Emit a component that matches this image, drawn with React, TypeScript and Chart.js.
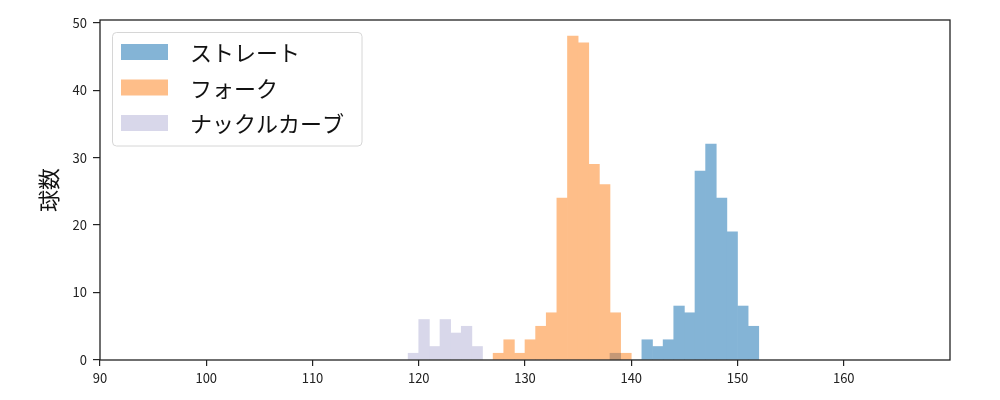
import React, { useEffect, useRef } from "react";
import { Chart, registerables } from "chart.js";

Chart.register(...registerables);

// Histogram bins (left edge, width 1) and counts per pitch type
const seriesNames = ["ストレート", "フォーク", "ナックルカーブ"];
const straightBins = [138, 139, 140, 141, 142, 143, 144, 145, 146, 147, 148, 149, 150, 151];
const straightCounts = [1, 0, 0, 3, 2, 3, 8, 7, 28, 32, 24, 19, 8, 5];
const forkBins = [127, 128, 129, 130, 131, 132, 133, 134, 135, 136, 137, 138, 139];
const forkCounts = [1, 3, 1, 3, 5, 7, 24, 48, 47, 29, 26, 7, 1];
const knuckleBins = [119, 120, 121, 122, 123, 124, 125];
const knuckleCounts = [1, 6, 2, 6, 4, 5, 2];
const xTicks = [90, 100, 110, 120, 130, 140, 150, 160];
const yTicks = [0, 10, 20, 30, 40, 50];
const yLabel = "球数";

const colors = ["rgb(132,180,214)", "rgb(254,190,137)", "rgb(216,215,234)"];
const overlapColor = "rgb(197,152,118)";
const FONT = '"Noto Sans CJK JP", "Noto Sans", sans-serif';

const toPoints = (bins: number[], counts: number[]) =>
  bins.map((b, i) => ({ x: b + 0.5, y: counts[i] }));

// straight bars that sit under a fork bar get the blended tint
const straightColors = straightBins.map((b) =>
  forkBins.includes(b) ? overlapColor : colors[0]
);

const overlayPlugin = {
  id: "overlay",
  afterDraw(chart: any) {
    const { ctx, chartArea } = chart;
    const { left, right, top, bottom } = chartArea;
    ctx.save();
    ctx.strokeStyle = "#222";
    ctx.lineWidth = 1.3;
    ctx.strokeRect(left, top, right - left, bottom - top);
    ctx.fillStyle = "#111";
    ctx.font = `22px ${FONT}`;
    ctx.textAlign = "center";
    ctx.textBaseline = "middle";
    ctx.translate(49, (top + bottom) / 2);
    ctx.rotate(-Math.PI / 2);
    ctx.fillText(yLabel, 0, 0);
    ctx.restore();

    ctx.save();
    const bx = 112.5, by = 32.5, bw = 249.5, bh = 113.5, r = 4;
    ctx.beginPath();
    ctx.moveTo(bx + r, by);
    ctx.lineTo(bx + bw - r, by);
    ctx.quadraticCurveTo(bx + bw, by, bx + bw, by + r);
    ctx.lineTo(bx + bw, by + bh - r);
    ctx.quadraticCurveTo(bx + bw, by + bh, bx + bw - r, by + bh);
    ctx.lineTo(bx + r, by + bh);
    ctx.quadraticCurveTo(bx, by + bh, bx, by + bh - r);
    ctx.lineTo(bx, by + r);
    ctx.quadraticCurveTo(bx, by, bx + r, by);
    ctx.closePath();
    ctx.fillStyle = "rgba(255,255,255,0.8)";
    ctx.fill();
    ctx.strokeStyle = "#d6d6d6";
    ctx.lineWidth = 1;
    ctx.stroke();
    ctx.font = `22px ${FONT}`;
    ctx.textAlign = "left";
    ctx.textBaseline = "middle";
    const rows = [52, 87.5, 123];
    seriesNames.forEach((name, i) => {
      ctx.fillStyle = colors[i];
      ctx.fillRect(121, rows[i] - 8, 47, 16);
      ctx.fillStyle = "#111";
      ctx.fillText(name, 190, rows[i] + 1);
    });
    ctx.restore();
  },
};

export default function App() {
  const ref = useRef<HTMLCanvasElement | null>(null);
  useEffect(() => {
    if (!ref.current) return;
    const chart = new Chart(ref.current, {
      type: "bar",
      data: {
        datasets: [
          { label: seriesNames[0], data: toPoints(straightBins, straightCounts), backgroundColor: straightColors, order: 0 },
          { label: seriesNames[1], data: toPoints(forkBins, forkCounts), backgroundColor: colors[1], order: 1 },
          { label: seriesNames[2], data: toPoints(knuckleBins, knuckleCounts), backgroundColor: colors[2], order: 2 },
        ] as any,
      },
      options: {
        animation: false,
        responsive: false,
        devicePixelRatio: 1,
        layout: { padding: { top: 20, right: 50, left: 0, bottom: 0 } },
        datasets: {
          bar: { grouped: false, barPercentage: 1, categoryPercentage: 1, borderWidth: 0 },
        } as any,
        plugins: { legend: { display: false }, tooltip: { enabled: false } },
        scales: {
          x: {
            type: "linear",
            min: 90,
            max: 170,
            offset: false,
            afterBuildTicks: (s: any) => {
              s.ticks = xTicks.map((v) => ({ value: v }));
            },
            afterFit: (s: any) => {
              s.height = 40;
            },
            grid: { offset: false, drawOnChartArea: false, drawTicks: true, tickLength: 6, color: "#222", lineWidth: 1.2 },
            border: { display: false },
            ticks: { color: "#222", padding: 4, font: { family: FONT, size: 13 }, maxRotation: 0 },
          },
          y: {
            type: "linear",
            min: 0,
            max: 50.4,
            afterBuildTicks: (s: any) => {
              s.ticks = yTicks.map((v) => ({ value: v }));
            },
            afterFit: (s: any) => {
              s.width = 100;
            },
            grid: { drawOnChartArea: false, drawTicks: true, tickLength: 7, color: "#222", lineWidth: 1.2 },
            border: { display: false },
            ticks: { color: "#222", padding: 6, font: { family: FONT, size: 13 } },
          },
        },
      } as any,
      plugins: [overlayPlugin],
    });
    return () => chart.destroy();
  }, []);
  return (
    <div style={{ position: "fixed", left: 0, top: 0, width: 1000, height: 400, background: "#fff" }}>
      <canvas ref={ref} width={1000} height={400} style={{ width: 1000, height: 400, display: "block" }} />
    </div>
  );
}
